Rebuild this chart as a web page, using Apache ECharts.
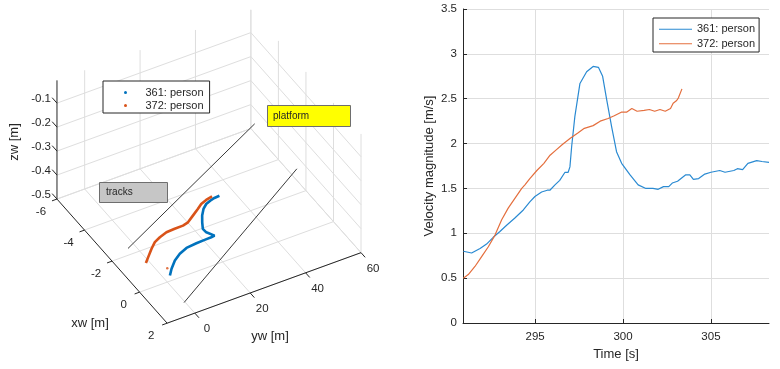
<!DOCTYPE html>
<html>
<head>
<meta charset="utf-8">
<script src="https://cdn.jsdelivr.net/npm/echarts@6/dist/echarts.min.js"></script>
<style>
  html, body { margin: 0; padding: 0; background: #fff; }
  #main { width: 780px; height: 369px; }
</style>
</head>
<body>
<div id="main"></div>
<script>
// velocity plot (right panel)
const time361 = [290.92, 291.39, 291.87, 292.24, 292.62, 293.0, 293.38, 293.85, 294.33, 294.7, 294.99, 295.37, 295.69, 295.84, 296.13, 296.4, 296.7, 296.88, 296.98, 297.08, 297.26, 297.55, 297.93, 298.3, 298.6, 298.84, 299.07, 299.35, 299.63, 299.92, 300.4, 300.86, 301.3, 301.7, 302.0, 302.3, 302.6, 302.8, 303.1, 303.55, 303.8, 304.0, 304.3, 304.65, 305.0, 305.5, 305.8, 306.3, 306.5, 306.8, 307.1, 307.6, 307.9, 308.3];
const vel361 = [0.80, 0.78, 0.83, 0.88, 0.955, 1.02, 1.09, 1.17, 1.26, 1.35, 1.41, 1.46, 1.48, 1.48, 1.54, 1.59, 1.68, 1.68, 1.74, 1.97, 2.30, 2.67, 2.80, 2.86, 2.85, 2.75, 2.49, 2.19, 1.91, 1.78, 1.65, 1.54, 1.50, 1.50, 1.49, 1.52, 1.52, 1.56, 1.58, 1.65, 1.65, 1.60, 1.61, 1.66, 1.68, 1.70, 1.68, 1.70, 1.72, 1.71, 1.78, 1.81, 1.80, 1.79];
const time372 = [290.92, 291.2, 291.58, 291.96, 292.34, 292.72, 293.1, 293.47, 293.85, 294.24, 294.42, 294.7, 295.1, 295.5, 295.85, 296.2, 296.55, 297.0, 297.45, 297.8, 298.3, 298.7, 299.15, 299.5, 299.9, 300.2, 300.5, 300.8, 301.2, 301.5, 301.8, 302.1, 302.4, 302.7, 302.85, 303.05, 303.15, 303.35];
const vel372 = [0.50, 0.54, 0.63, 0.74, 0.85, 0.98, 1.15, 1.28, 1.39, 1.50, 1.54, 1.61, 1.70, 1.78, 1.87, 1.93, 1.99, 2.06, 2.12, 2.17, 2.20, 2.25, 2.28, 2.31, 2.35, 2.35, 2.39, 2.36, 2.37, 2.38, 2.36, 2.38, 2.36, 2.39, 2.45, 2.48, 2.51, 2.61];
const timeLim = [290.9, 308.3];
const velLim = [0, 3.5];

// 3d world positions [xw, yw, zw] (left panel)
const track361 = [[0.31, -0.59, -0.45], [0.01, 1.49, -0.45], [-0.33, 4.38, -0.45], [-0.57, 7.35, -0.45], [-0.74, 10.61, -0.45], [-0.79, 14.43, -0.45], [-0.81, 17.5, -0.45], [-0.82, 19.95, -0.45], [-0.84, 21.25, -0.45], [-0.92, 21.03, -0.45], [-1.15, 19.79, -0.45], [-1.38, 19.69, -0.45], [-1.71, 21.11, -0.45], [-2.04, 22.73, -0.45], [-2.34, 24.7, -0.45], [-2.53, 26.63, -0.45], [-2.62, 28.51, -0.45], [-2.68, 30.33, -0.45], [-2.70, 32.24, -0.45]];
const track372 = [[-0.72, -4.14, -0.45], [-0.97, -2.07, -0.45], [-1.32, 0.88, -0.45], [-1.58, 3.36, -0.45], [-1.73, 5.92, -0.45], [-1.86, 8.94, -0.45], [-1.88, 12.01, -0.45], [-1.89, 15.06, -0.45], [-1.96, 17.21, -0.45], [-2.2, 20.18, -0.45], [-2.44, 23.15, -0.45], [-2.62, 25.27, -0.45], [-2.73, 27.6, -0.45], [-2.8, 30.09, -0.45]];
const stray372 = [[-0.09, 0.44, -0.45]];
const platformEdgeA = [[-1.75, -5.48, -0.45], [-5.58, 59.3, -0.45]];
const platformEdgeB = [[1.88, -3.3, -0.45], [-2.64, 59.9, -0.45]];
const xwTicks = [-6, -4, -2, 0, 2];
const ywTicks = [0, 20, 40, 60];
const zwTicks = [-0.5, -0.4, -0.3, -0.2, -0.1];
const xwLim = [-6, 2];
const ywLim = [-10, 60];
const zwLim = [-0.5, -0.005];

const FONT = '"Liberation Sans", Arial, sans-serif';
const INK = '#262626';
const GRIDC = '#dedede';
const BLUE = '#0072BD';
const ORANGE = '#D95319';
const BLUE_THIN = '#2a8ad2';
const ORANGE_THIN = '#e46f3e';

// orthographic view, like matlab view(az, el)
const view = { az: 60.4, el: 39.8, aspect: [1, 1, 0.693] };
const box = { cx: 209, cy: 166.5, scale: 223, width: 390, height: 369 };
const rad = Math.PI / 180;
const ca = Math.cos(view.az * rad), sa = Math.sin(view.az * rad);
const se = Math.sin(view.el * rad), ce = Math.cos(view.el * rad);

function proj(p) {
    const nx = ((p[0] - xwLim[0]) / (xwLim[1] - xwLim[0]) - 0.5) * view.aspect[0];
    const ny = ((p[1] - ywLim[0]) / (ywLim[1] - ywLim[0]) - 0.5) * view.aspect[1];
    const nz = ((p[2] - zwLim[0]) / (zwLim[1] - zwLim[0]) - 0.5) * view.aspect[2];
    return [nx * ca + ny * sa, -nx * se * sa + ny * se * ca + nz * ce];
}

// frame pieces: grid lines, axes, ticks, tick labels
const x0 = xwLim[0], x1 = xwLim[1], y0 = ywLim[0], y1 = ywLim[1], z0 = zwLim[0], z1 = zwLim[1];
let frame = [];
function seg(a, b, color) { frame.push({ kind: 'line', a: a, b: b, color: color }); }
function txt(at, text, dx, dy, align) { frame.push({ kind: 'text', at: at, text: text, dx: dx, dy: dy, align: align }); }

xwTicks.forEach(x => seg([x, y0, z0], [x, y1, z0], GRIDC));
ywTicks.forEach(y => seg([x0, y, z0], [x1, y, z0], GRIDC));
ywTicks.forEach(y => seg([x0, y, z0], [x0, y, z1], GRIDC));
zwTicks.forEach(z => seg([x0, y0, z], [x0, y1, z], GRIDC));
xwTicks.forEach(x => seg([x, y1, z0], [x, y1, z1], GRIDC));
zwTicks.forEach(z => seg([x0, y1, z], [x1, y1, z], GRIDC));

seg([x0, y0, z0], [x0, y0, z1], INK);
seg([x0, y0, z0], [x1, y0, z0], INK);
seg([x1, y0, z0], [x1, y1, z0], INK);
xwTicks.forEach(x => seg([x, y0, z0], [x, y0 - 1.8, z0], INK));
ywTicks.forEach(y => seg([x1, y, z0], [x1 + 0.3, y, z0], INK));
zwTicks.forEach(z => seg([x0, y0, z], [x0 - 0.35, y0, z], INK));

xwTicks.forEach(x => txt([x, y0, z0], String(x), -16, 13, 'center'));
ywTicks.forEach(y => txt([x1, y, z0], String(y), 12, 16, 'center'));
zwTicks.forEach(z => txt([x0, y0, z], String(z), -6, -4, 'right'));

let chart = echarts.init(document.getElementById('main'));
let option = {
    backgroundColor: '#fff',
    animation: false,
    textStyle: { fontFamily: FONT },
    legend: [{
        data: [
            { name: '361: person', itemStyle: { color: BLUE_THIN } },
            { name: '372: person', itemStyle: { color: ORANGE_THIN } }
        ],
        orient: 'vertical',
        left: 653, top: 18,
        padding: [4, 4, 1, 6],
        icon: 'path://M0,0 H33 V1 H0 Z',
        itemWidth: 33, itemHeight: 14, itemGap: 0,
        backgroundColor: '#fff',
        borderColor: INK, borderWidth: 1,
        textStyle: { fontSize: 11, color: INK, fontFamily: FONT, lineHeight: 14.5 }
    }, {
        data: [
            { name: '361: person', itemStyle: { color: BLUE } },
            { name: '372: person', itemStyle: { color: ORANGE } }
        ],
        orient: 'vertical',
        left: 103, top: 81,
        padding: [5, 6, 1, 21],
        icon: 'circle',
        itemWidth: 30, itemHeight: 3, itemGap: 0,
        backgroundColor: '#fff',
        borderColor: INK, borderWidth: 1,
        textStyle: { fontSize: 11, color: INK, fontFamily: FONT, lineHeight: 13 }
    }],
    grid: [
        { left: 463, top: 9, right: 11, bottom: 46 },
        { left: 0, top: 0, width: box.width, height: box.height }
    ],
    xAxis: [{
        type: 'value', gridIndex: 0,
        min: timeLim[0], max: timeLim[1], splitNumber: 3,
        name: 'Time [s]', nameLocation: 'middle', nameGap: 24,
        nameTextStyle: { fontSize: 13, color: INK, fontFamily: FONT },
        axisLine: { lineStyle: { color: INK, width: 1 } },
        axisTick: { inside: true, length: 4, lineStyle: { color: INK } },
        axisLabel: { fontSize: 11.5, color: INK, margin: 8, showMinLabel: false, showMaxLabel: false },
        splitLine: { show: true, showMinLine: false, showMaxLine: false, lineStyle: { color: GRIDC } }
    }, {
        type: 'value', gridIndex: 1, show: false,
        min: -box.cx / box.scale, max: (box.width - box.cx) / box.scale
    }],
    yAxis: [{
        type: 'value', gridIndex: 0,
        min: velLim[0], max: velLim[1], interval: 0.5,
        name: 'Velocity magnitude [m/s]', nameLocation: 'middle', nameGap: 27,
        nameTextStyle: { fontSize: 13, color: INK, fontFamily: FONT },
        axisLine: { show: true, lineStyle: { color: INK, width: 1 } },
        axisTick: { show: true, inside: true, length: 4, lineStyle: { color: INK } },
        axisLabel: { fontSize: 11.5, color: INK, margin: 6 },
        splitLine: { show: true, showMinLine: false, lineStyle: { color: GRIDC } }
    }, {
        type: 'value', gridIndex: 1, show: false,
        min: -(box.height - box.cy) / box.scale, max: box.cy / box.scale
    }],
    graphic: [
        { type: 'text', x: 14, y: 142, rotation: Math.PI / 2, style: { text: 'zw [m]', font: '13px ' + FONT, fill: INK, align: 'center', verticalAlign: 'middle' } },
        { type: 'text', x: 90, y: 323, style: { text: 'xw [m]', font: '13px ' + FONT, fill: INK, align: 'center', verticalAlign: 'middle' } },
        { type: 'text', x: 270, y: 336, style: { text: 'yw [m]', font: '13px ' + FONT, fill: INK, align: 'center', verticalAlign: 'middle' } },
        { type: 'rect', z: 10, shape: { x: 267.5, y: 105.5, width: 83, height: 21 }, style: { fill: '#ffff00', stroke: '#6e6e6e', lineWidth: 1 } },
        { type: 'text', z: 11, x: 273, y: 116, style: { text: 'platform', font: '10px ' + FONT, fill: INK, verticalAlign: 'middle' } },
        { type: 'rect', z: 10, shape: { x: 99.5, y: 182.5, width: 68, height: 20 }, style: { fill: '#c6c6c6', stroke: '#6e6e6e', lineWidth: 1 } },
        { type: 'text', z: 11, x: 106, y: 192.5, style: { text: 'tracks', font: '10px ' + FONT, fill: INK, verticalAlign: 'middle' } }
    ],
    series: [{
        name: '361: person', type: 'line', xAxisIndex: 0, yAxisIndex: 0,
        data: time361.map((t, i) => [t, vel361[i]]),
        symbol: 'none', color: BLUE_THIN, lineStyle: { width: 1.2, color: BLUE_THIN }
    }, {
        name: '372: person', type: 'line', xAxisIndex: 0, yAxisIndex: 0,
        data: time372.map((t, i) => [t, vel372[i]]),
        symbol: 'none', color: ORANGE_THIN, lineStyle: { width: 1.2, color: ORANGE_THIN }
    }, {
        name: 'frame3d', type: 'custom', xAxisIndex: 1, yAxisIndex: 1, z: 1,
        data: frame.map(() => [0, 0]),
        renderItem: function (params, api) {
            const it = frame[params.dataIndex];
            if (it.kind === 'text') {
                const p = api.coord(proj(it.at));
                return {
                    type: 'text', x: p[0] + it.dx, y: p[1] + it.dy,
                    style: { text: it.text, font: '11.5px ' + FONT, fill: INK, align: it.align, verticalAlign: 'middle' }
                };
            }
            const a = api.coord(proj(it.a)), b = api.coord(proj(it.b));
            return {
                type: 'line',
                shape: { x1: a[0], y1: a[1], x2: b[0], y2: b[1] },
                style: { stroke: it.color, lineWidth: 1 }
            };
        }
    }, {
        name: 'edgeA', type: 'line', xAxisIndex: 1, yAxisIndex: 1, z: 3,
        data: platformEdgeA.map(proj), symbol: 'none',
        lineStyle: { color: '#3a3a3a', width: 1 }
    }, {
        name: 'edgeB', type: 'line', xAxisIndex: 1, yAxisIndex: 1, z: 3,
        data: platformEdgeB.map(proj), symbol: 'none',
        lineStyle: { color: '#3a3a3a', width: 1 }
    }, {
        name: '361: person', type: 'line', xAxisIndex: 1, yAxisIndex: 1, z: 4,
        data: track361.map(proj), symbol: 'none', color: BLUE,
        lineStyle: { color: BLUE, width: 2.6 }
    }, {
        name: '372: person', type: 'line', xAxisIndex: 1, yAxisIndex: 1, z: 4,
        data: track372.map(proj), symbol: 'none', color: ORANGE,
        lineStyle: { color: ORANGE, width: 2.6 }
    }, {
        name: '372: person', type: 'scatter', xAxisIndex: 1, yAxisIndex: 1, z: 4,
        data: stray372.map(proj), symbolSize: 2.5, color: ORANGE
    }]
};
chart.setOption(option);
</script>
</body>
</html>
